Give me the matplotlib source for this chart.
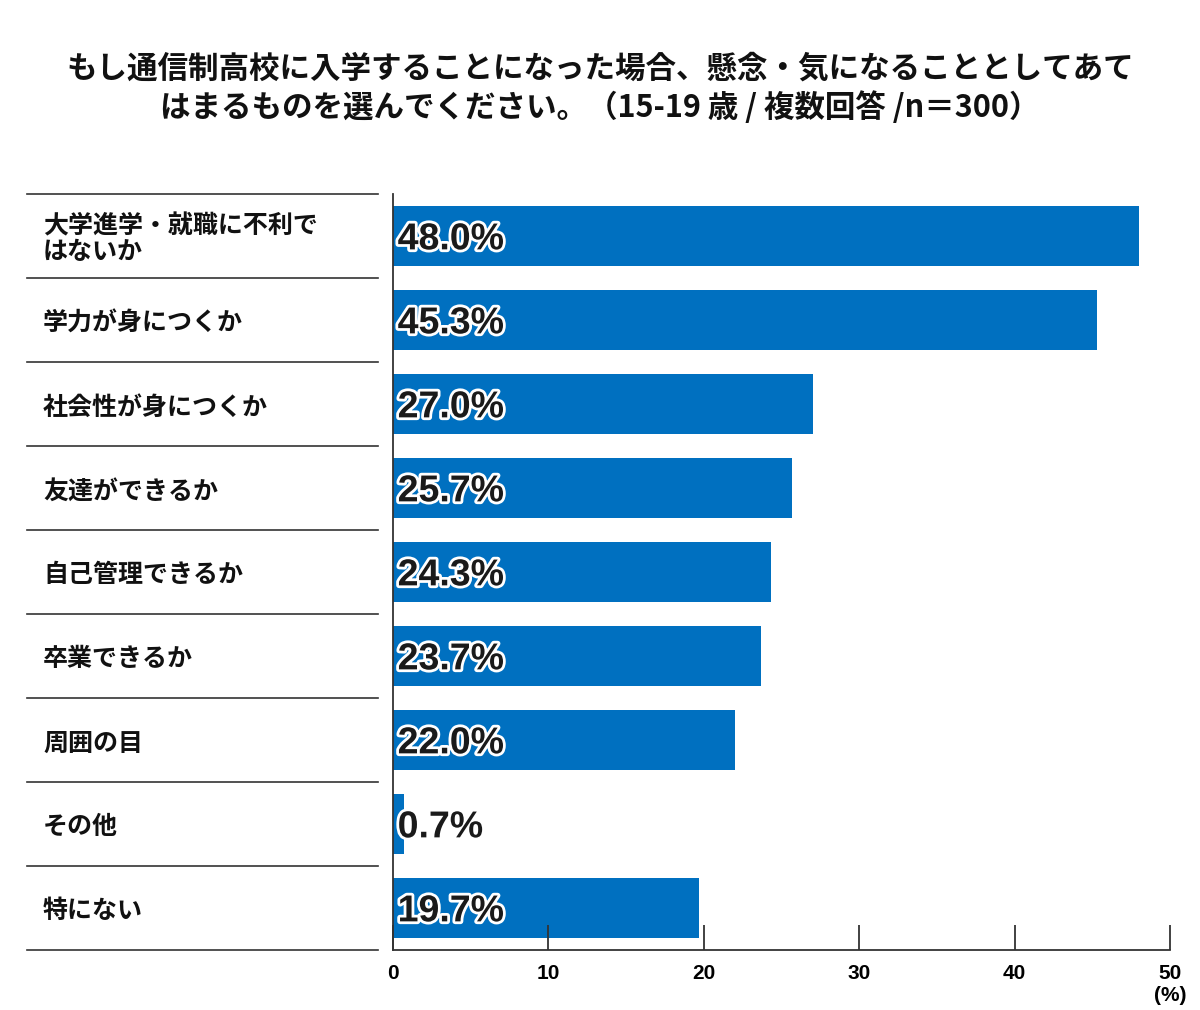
import matplotlib
matplotlib.use("Agg")
import matplotlib.pyplot as plt
import matplotlib.patheffects as pe

plt.rcParams['font.family'] = ['Noto Sans CJK JP', 'DejaVu Sans']

title = ("もし通信制高校に入学することになった場合、懸念・気になることとしてあて\n"
         "はまるものを選んでください。（15-19 歳 / 複数回答 /n＝300）")
labels = ["大学進学・就職に不利で\nはないか", "学力が身につくか", "社会性が身につくか",
          "友達ができるか", "自己管理できるか", "卒業できるか", "周囲の目", "その他", "特にない"]
values = [48.0, 45.3, 27.0, 25.7, 24.3, 23.7, 22.0, 0.7, 19.7]
ticks = [0, 10, 20, 30, 40, 50]

bar_color = "#0070C0"
num_font = ["Liberation Sans", "DejaVu Sans"]

fig = plt.figure(figsize=(12, 10.1), dpi=100)
ax = fig.add_axes([393 / 1200, 1 - 950 / 1010, 777 / 1200, (950 - 194) / 1010])

ypos = list(range(len(values)))
ax.barh(ypos, values, height=0.72, color=bar_color)
ax.set_ylim(len(values) - 0.5, -0.5)
ax.set_xlim(0, 50)

for s in ["top", "right"]:
    ax.spines[s].set_visible(False)
for s in ["left", "bottom"]:
    ax.spines[s].set_color("#333333")
    ax.spines[s].set_linewidth(1.3)

ax.set_yticks([])
ax.set_xticks(ticks)
ax.set_xticklabels([str(t) for t in ticks], fontsize=15, fontweight="bold", family=num_font)
ax.tick_params(axis="x", direction="in", length=18, width=1.3, color="#333333", pad=10)
ax.annotate("(%)", xy=(50, 0), xycoords=("data", "axes fraction"), xytext=(0, -26),
            textcoords="offset points", ha="center", va="top", fontsize=15,
            fontweight="bold", family=num_font, annotation_clip=False)

# value labels with white outline
for y, v in zip(ypos, values):
    ax.text(0.3, y + 0.04, f"{v:.1f}%", ha="left", va="center", fontsize=27,
            fontweight="bold", color="#1a1a1a", family=num_font,
            path_effects=[pe.withStroke(linewidth=4, foreground="white")])

# left category column with separators
x0 = (27 - 393) / 777
x1 = (378 - 393) / 777
xt = (43 - 393) / 777
trans = ax.get_yaxis_transform()
for b in [i - 0.5 for i in range(len(values) + 1)]:
    ax.plot([x0, x1], [b, b], transform=trans, color="#333333", lw=1.2, clip_on=False)
for y, lab in zip(ypos, labels):
    ax.text(xt, y + 0.04, lab, transform=trans, ha="left", va="center", fontsize=18,
            fontweight="bold", color="#111111", linespacing=1.1)

fig.text(0.5, 1 - 88 / 1010, title, ha="center", va="center", fontsize=22,
         fontweight="bold", color="#111111", linespacing=1.25)

fig.savefig("out.png", dpi=100, facecolor="white")
